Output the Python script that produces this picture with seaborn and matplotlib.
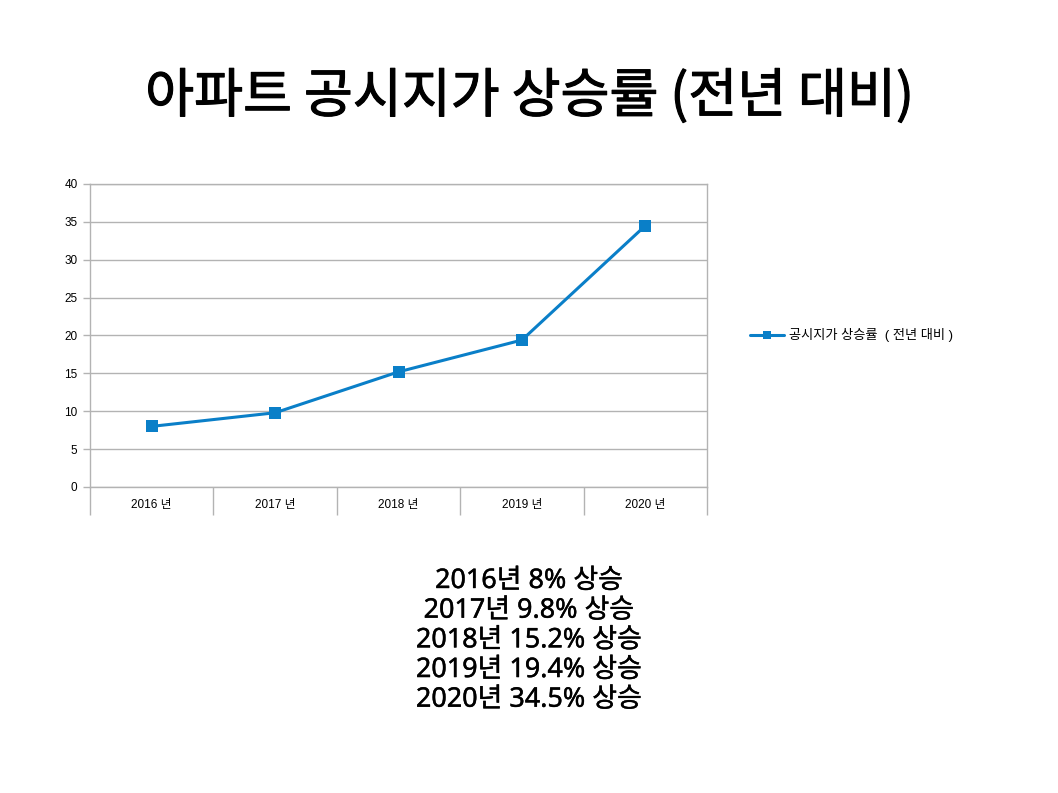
import matplotlib
matplotlib.use("Agg")
import matplotlib.pyplot as plt
import matplotlib.patheffects as pe
import seaborn as sns
import pandas as pd

# data
years = ["2016 년", "2017 년", "2018 년", "2019 년", "2020 년"]
rates = [8, 9.8, 15.2, 19.4, 34.5]
series_name = "공시지가 상승률  ( 전년 대비 )"
title = "아파트 공시지가 상승률 (전년 대비)"
notes = ["2016년 8% 상승", "2017년 9.8% 상승", "2018년 15.2% 상승",
         "2019년 19.4% 상승", "2020년 34.5% 상승"]

sns.set_style("white")
plt.rcParams['font.family'] = ['Liberation Sans', 'Noto Sans CJK KR', 'DejaVu Sans']
plt.rcParams['text.color'] = 'black'

df = pd.DataFrame({"year": years, "rate": rates, "series": series_name})

fig = plt.figure(figsize=(10.58, 7.93), dpi=100)
ax = fig.add_axes([0.0851, 0.3859, 0.5832, 0.3821])

blue = "#0a7fc8"
sns.lineplot(data=df, x="year", y="rate", hue="series", palette=[blue],
             marker="s", markersize=8, markeredgewidth=0, linewidth=2.2,
             sort=False, ax=ax)

grid_c = "#b3b3b3"
ax.set_xlim(-0.5, len(years) - 0.5)
ax.set_ylim(0, 40)
ax.set_yticks(range(0, 41, 5))
ax.yaxis.grid(True, color=grid_c, linewidth=1)
ax.set_axisbelow(True)
ax.set_xlabel("")
ax.set_ylabel("")
for s in ax.spines.values():
    s.set_color(grid_c)
    s.set_linewidth(1)

ax.set_xticks(range(len(years)))
ax.set_xticklabels(years)
ax.tick_params(axis="x", which="major", bottom=False, pad=5, labelsize=8.5, labelcolor="black")
ax.set_xticks([i - 0.5 for i in range(len(years) + 1)], minor=True)
ax.tick_params(axis="x", which="minor", bottom=True, length=20, width=1, color=grid_c, direction="out")
ax.tick_params(axis="y", left=True, length=5, width=1, color=grid_c, labelsize=8.5,
               pad=4, labelcolor="black")

leg = ax.legend(loc="center left", bbox_to_anchor=(1.05, 0.5), frameon=False,
                fontsize=9.5, handlelength=2.6, handletextpad=0.4)
for t in leg.get_texts():
    t.set_color("black")
for h in leg.legend_handles:
    h.set_markersize(6)

kr = ['Noto Sans CJK KR', 'DejaVu Sans']
fig.text(0.5, 0.878, title, ha="center", va="center", fontsize=38.3,
         family=kr, fontweight="normal", color="black",
         path_effects=[pe.withStroke(linewidth=0.8, foreground="black")])
fig.text(0.5, 0.1925, "\n".join(notes), ha="center", va="center", fontsize=19.4,
         linespacing=1.08, family=['Noto Sans', 'Noto Sans CJK KR', 'DejaVu Sans'],
         fontweight="normal", color="black",
         path_effects=[pe.withStroke(linewidth=0.3, foreground="black")])

fig.savefig("out.png", dpi=100)
